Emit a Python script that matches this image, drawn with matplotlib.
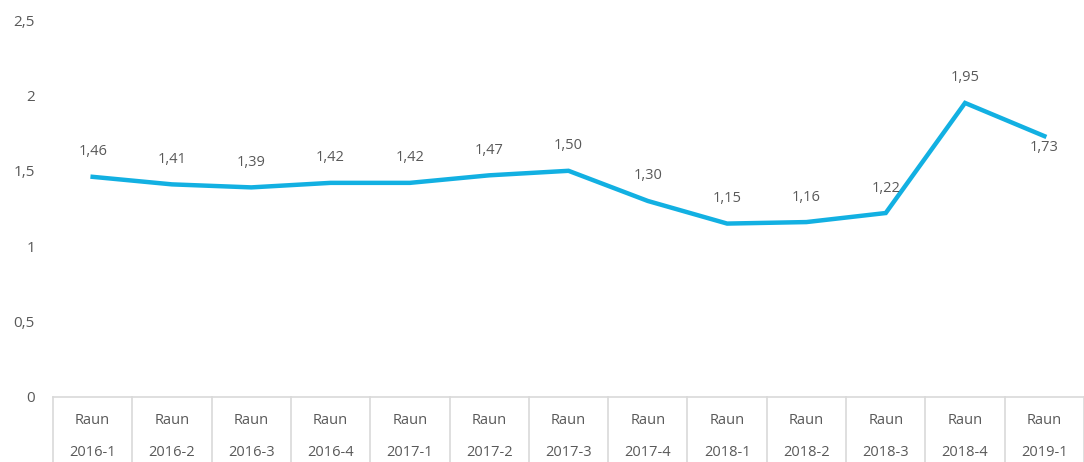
import matplotlib
matplotlib.use("Agg")
import matplotlib.pyplot as plt
import matplotlib.transforms as mtransforms

plt.rcParams['font.family'] = ['Open Sans', 'DejaVu Sans']

prefix = "Raun"
periods = ["2016-1", "2016-2", "2016-3", "2016-4", "2017-1", "2017-2", "2017-3",
           "2017-4", "2018-1", "2018-2", "2018-3", "2018-4", "2019-1"]
values = [1.46, 1.41, 1.39, 1.42, 1.42, 1.47, 1.50, 1.30, 1.15, 1.16, 1.22, 1.95, 1.73]
yticks = [0, 0.5, 1, 1.5, 2, 2.5]

text_col = "#595959"
line_col = "#12B0E2"
grid_col = "#D9D9D9"

fig = plt.figure(figsize=(10.84, 4.62), dpi=100)
ax = fig.add_axes([53 / 1084, 1 - 397 / 462, 1 - 53 / 1084, 377 / 462])

x = list(range(len(values)))
ax.plot(x, values, color=line_col, lw=3.2, solid_joinstyle="miter", clip_on=False)

for i, v in enumerate(values):
    lab = f"{v:.2f}".replace(".", ",")
    if i == len(values) - 1:
        ax.annotate(lab, (i, v), xytext=(0, -8), textcoords="offset points",
                    ha="center", va="center", fontsize=10.5, color=text_col)
    else:
        ax.annotate(lab, (i, v), xytext=(0, 18), textcoords="offset points",
                    ha="center", va="center", fontsize=10.5, color=text_col)

ax.set_xlim(-0.5, len(values) - 0.5)
ax.set_ylim(0, 2.5)
ax.set_yticks(yticks)
ax.set_yticklabels([f"{t:g}".replace(".", ",") for t in yticks])
ax.tick_params(axis="y", length=0, pad=13, labelsize=11, labelcolor=text_col)
ax.set_xticks([])

for s in ["top", "right", "left"]:
    ax.spines[s].set_visible(False)
ax.spines["bottom"].set_color(grid_col)
ax.spines["bottom"].set_linewidth(1.2)

# two-row category labels with separators
trans = mtransforms.blended_transform_factory(ax.transData, ax.transAxes)
for i in range(len(values) + 1):
    ax.plot([i - 0.5, i - 0.5], [0, -0.175], transform=trans, color=grid_col,
            lw=1.2, clip_on=False)
for i, p in enumerate(periods):
    ax.text(i, -24 / 377, prefix, transform=trans, ha="center", va="center",
            fontsize=10.5, color=text_col)
    ax.text(i, -55 / 377, p, transform=trans, ha="center", va="center",
            fontsize=10.5, color=text_col)

fig.savefig("out.png", dpi=100)
